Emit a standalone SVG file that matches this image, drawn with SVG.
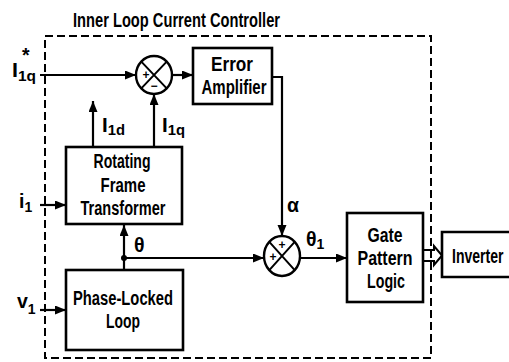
<svg xmlns="http://www.w3.org/2000/svg" width="509" height="362" viewBox="0 0 509 362">
<defs>
<style>
.box{fill:#fff;stroke:#000;stroke-width:2.6}
.w{fill:none;stroke:#000;stroke-width:2.2}
.t{font-family:"Liberation Sans",Arial,sans-serif;font-weight:bold;font-size:19.5px;fill:#000}
.c{text-anchor:middle}
.sub{font-size:14px}
.sign{font-family:"Liberation Sans",Arial,sans-serif;font-weight:bold;font-size:12px;fill:#000;text-anchor:middle}
</style>
<marker id="ah" markerUnits="userSpaceOnUse" markerWidth="12" markerHeight="10" refX="11" refY="4.5" orient="auto">
<path d="M0,0 L11,4.5 L0,9 Z" fill="#000"/>
</marker>
</defs>
<rect width="509" height="362" fill="#fff"/>
<text class="t" x="73" y="27" font-size="20" textLength="207" lengthAdjust="spacingAndGlyphs">Inner Loop Current Controller</text>

<g id="connectors">
<path class="w" d="M40,75 H136" marker-end="url(#ah)"/>
<path class="w" d="M172,75 H193" marker-end="url(#ah)"/>
<path class="w" d="M272,77 H282 V236" marker-end="url(#ah)"/>
<path class="w" d="M93,147 V101" marker-end="url(#ah)"/>
<path class="w" d="M154,147 V94" marker-end="url(#ah)"/>
<path class="w" d="M40,205 H66" marker-end="url(#ah)"/>
<path class="w" d="M124,270 V225" marker-end="url(#ah)"/>
<path class="w" d="M124,258 H264" marker-end="url(#ah)"/>
<circle cx="124" cy="258" r="3" fill="#000"/>
<path class="w" d="M40,310 H66" marker-end="url(#ah)"/>
<path class="w" d="M300,258 H347" marker-end="url(#ah)"/>
<path d="M423,250 H434 V246 L442,255.5 L434,265 V261 H423" fill="#fff" stroke="#000" stroke-width="2"/>
</g>

<rect x="45" y="36" width="386" height="322" fill="none" stroke="#000" stroke-width="2" stroke-dasharray="8 4"/>

<g id="sum1">
<ellipse cx="154" cy="75" rx="18" ry="19" fill="#fff" stroke="#000" stroke-width="2.4"/>
<path d="M141.3,61.6 L166.7,88.4 M166.7,61.6 L141.3,88.4" stroke="#000" stroke-width="2"/>
<text class="sign" x="146" y="79">+</text>
<text class="sign" x="154" y="90">−</text>
</g>

<g id="error-amp">
<rect class="box" x="193" y="48" width="79" height="56"/>
<text class="t c" x="232" y="71" textLength="42" lengthAdjust="spacingAndGlyphs">Error</text>
<text class="t c" x="234" y="94" textLength="65" lengthAdjust="spacingAndGlyphs">Amplifier</text>
</g>

<g id="rft">
<rect class="box" x="66" y="147" width="116" height="77"/>
<text class="t c" x="122" y="168" textLength="57" lengthAdjust="spacingAndGlyphs">Rotating</text>
<text class="t c" x="123" y="192" textLength="45" lengthAdjust="spacingAndGlyphs">Frame</text>
<text class="t c" x="123" y="215" textLength="85" lengthAdjust="spacingAndGlyphs">Transformer</text>
</g>

<g id="pll">
<rect class="box" x="66" y="270" width="117" height="80"/>
<text class="t c" x="123" y="305" textLength="100" lengthAdjust="spacingAndGlyphs">Phase-Locked</text>
<text class="t c" x="123" y="328" textLength="34" lengthAdjust="spacingAndGlyphs">Loop</text>
</g>

<g id="sum2">
<ellipse cx="282" cy="256" rx="18" ry="20" fill="#fff" stroke="#000" stroke-width="2.4"/>
<path d="M269.3,241.9 L294.7,270.1 M294.7,241.9 L269.3,270.1" stroke="#000" stroke-width="2"/>
<text class="sign" x="282" y="249">+</text>
<text class="sign" x="273" y="261">+</text>
</g>

<g id="gate">
<rect class="box" x="347" y="213" width="76" height="89"/>
<text class="t c" x="385" y="242" textLength="35" lengthAdjust="spacingAndGlyphs">Gate</text>
<text class="t c" x="385" y="265" textLength="55" lengthAdjust="spacingAndGlyphs">Pattern</text>
<text class="t c" x="386" y="288" textLength="38" lengthAdjust="spacingAndGlyphs">Logic</text>
</g>

<g id="inverter">
<path d="M509,232 H442 V277 H509" fill="#fff" stroke="#000" stroke-width="2.6"/>
<text class="t" transform="translate(452,263) scale(0.72,1)">Inverter</text>
</g>

<g id="labels">
<text class="t" x="12" y="77" textLength="24" lengthAdjust="spacingAndGlyphs">I<tspan class="sub" dy="4">1q</tspan></text>
<text class="t" x="22" y="62" font-size="15">*</text>
<text class="t" x="102" y="132" textLength="23" lengthAdjust="spacingAndGlyphs">I<tspan class="sub" dy="3">1d</tspan></text>
<text class="t" x="162" y="132" textLength="23" lengthAdjust="spacingAndGlyphs">I<tspan class="sub" dy="3">1q</tspan></text>
<text class="t" x="19" y="208">i<tspan class="sub" dy="4">1</tspan></text>
<text class="t" x="17" y="308" font-size="16">v<tspan class="sub" dy="6">1</tspan></text>
<text class="t" x="134" y="252" font-size="17">θ</text>
<text class="t" x="287" y="212" font-size="16">α</text>
<text class="t" x="306" y="246" font-size="17">θ<tspan class="sub" dy="3">1</tspan></text>
</g>
</svg>
